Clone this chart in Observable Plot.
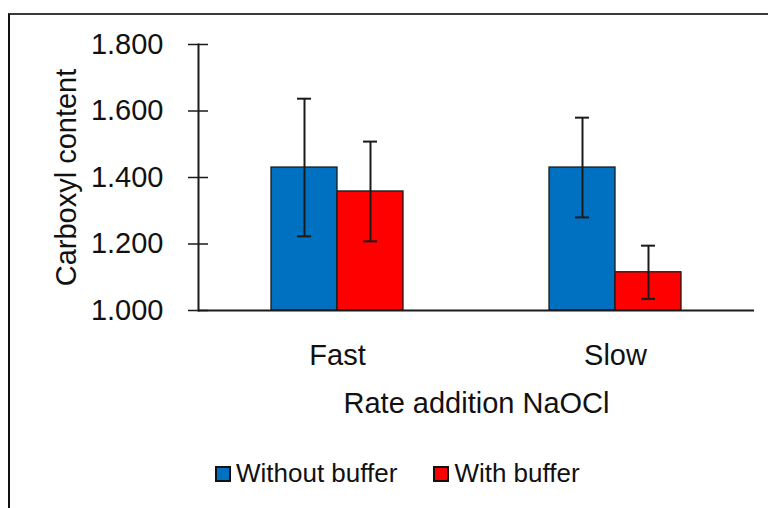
<!DOCTYPE html>
<html>
<head>
<meta charset="utf-8">
<script src="https://cdn.jsdelivr.net/npm/d3@7"></script>
<script src="https://cdn.jsdelivr.net/npm/@observablehq/plot@0.6"></script>
<style>
  body { margin: 0; background: #fff; font-family: "Liberation Sans", Arial, sans-serif; }
  #wrap { position: relative; width: 768px; height: 508px; overflow: hidden; background: #fff; }
  #border { position: absolute; left: 8px; top: 13px; width: 800px; height: 520px;
            border-top: 2px solid #3a3a3a; border-left: 2px solid #111; box-sizing: border-box; }
  #chart { position: absolute; left: 0; top: 0; }
  #legend { position: absolute; top: 458px; left: 215px; display: flex; align-items: center;
            font-size: 26px; color: #111; white-space: nowrap; }
  .item { display: flex; align-items: center; margin-right: 36px; }
  .sw { width: 12px; height: 12px; border: 2px solid #111; margin-right: 5px; }
</style>
</head>
<body>
<div id="wrap">
  <div id="border"></div>
  <div id="chart"></div>
  <div id="legend"></div>
</div>
<script>
const categories = ["Fast", "Slow"];
const series = ["Without buffer", "With buffer"];
const meanWithout = [1.430, 1.430];
const meanWith = [1.358, 1.115];
const errWithout = [0.207, 0.150];
const errWith = [0.150, 0.080];
const yTicks = [1.0, 1.2, 1.4, 1.6, 1.8];
const colors = ["#0070C0", "#FF0000"];
const yLabel = "Carboxyl content";
const xLabel = "Rate addition NaOCl";

const rows = [];
categories.forEach((c, i) => {
  rows.push({category: c, series: series[0], mean: meanWithout[i], err: errWithout[i]});
  rows.push({category: c, series: series[1], mean: meanWith[i], err: errWith[i]});
});
rows.forEach(d => { d.lo = d.mean - d.err; d.hi = d.mean + d.err; });

const ink = "#1a1a1a";
const plot = Plot.plot({
  width: 768, height: 430,
  marginLeft: 197, marginRight: 14, marginTop: 44, marginBottom: 120,
  style: {fontFamily: "Liberation Sans, Arial, sans-serif", fontSize: "29px", color: "#111", background: "transparent", overflow: "visible"},
  fx: {domain: categories, padding: 0, label: null},
  x: {domain: series, paddingInner: 0, paddingOuter: 1.094, axis: null},
  y: {domain: [1, 1.8], axis: null},
  color: {domain: series, range: colors},
  marks: [
    Plot.barY(rows, {fx: "category", x: "series", y1: 1, y2: "mean", fill: "series", stroke: ink, strokeWidth: 1.3}),
    Plot.ruleX(rows, {fx: "category", x: "series", y1: "lo", y2: "hi", stroke: ink, strokeWidth: 2}),
    Plot.tickY(rows, {fx: "category", x: "series", y: "lo", stroke: ink, strokeWidth: 2, insetLeft: 26, insetRight: 26}),
    Plot.tickY(rows, {fx: "category", x: "series", y: "hi", stroke: ink, strokeWidth: 2, insetLeft: 26, insetRight: 26}),
    Plot.ruleY([1], {stroke: ink, strokeWidth: 2}),
    Plot.frame({anchor: "left", facetAnchor: "left", stroke: ink, strokeWidth: 2}),
    Plot.axisY({ticks: yTicks, tickFormat: d3.format(".3f"), tickSize: 20, dx: 10, tickPadding: 25, fontSize: 29,
                stroke: ink, strokeWidth: 1.5, label: yLabel, labelArrow: "none", labelAnchor: "center", labelOffset: 143}),
    Plot.axisFx({anchor: "bottom", tickSize: 0, tickPadding: 34, fontSize: 29, label: xLabel, labelArrow: "none",
                 labelAnchor: "center", labelOffset: 102})
  ]
});
document.getElementById("chart").appendChild(plot);

const legend = document.getElementById("legend");
series.forEach((s, i) => {
  const item = document.createElement("div");
  item.className = "item";
  const sw = document.createElement("div");
  sw.className = "sw";
  sw.style.background = colors[i];
  const t = document.createElement("span");
  t.textContent = s;
  item.appendChild(sw);
  item.appendChild(t);
  legend.appendChild(item);
});
</script>
</body>
</html>
